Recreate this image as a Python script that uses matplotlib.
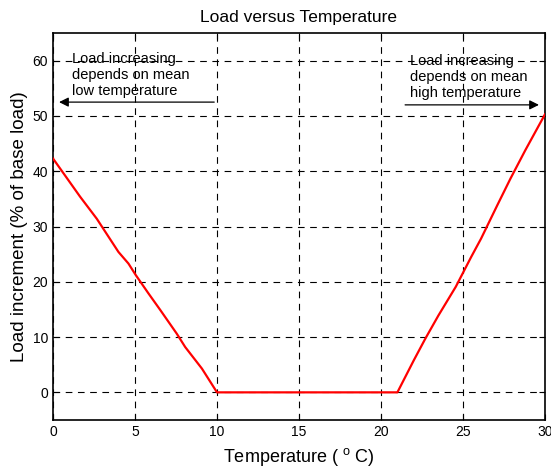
import matplotlib
matplotlib.use("Agg")
import matplotlib.pyplot as plt

plt.rcParams['font.family'] = ['Liberation Sans', 'DejaVu Sans']
plt.rcParams['mathtext.fontset'] = 'custom'
plt.rcParams['mathtext.rm'] = 'Liberation Sans'

# low temperature branch
temp_low = [0, 1.65, 2.67, 3.99, 4.6, 5.05, 5.82, 6.54, 7.55, 8.06, 9.08, 10]
load_low = [42.3, 35.4, 31.4, 25.4, 23.3, 21.2, 17.9, 14.9, 10.6, 8.2, 4.3, 0]
# flat part
temp_mid = [10, 21]
load_mid = [0, 0]
# high temperature branch
temp_high = [21, 22.0, 22.7, 23.5, 24.56, 25.5, 26.1, 27.1, 27.9, 28.8, 30]
load_high = [0, 5.8, 9.7, 13.9, 19.1, 24.5, 27.8, 33.9, 38.7, 43.8, 50.3]

xticks = [0, 5, 10, 15, 20, 25, 30]
yticks = [0, 10, 20, 30, 40, 50, 60]

fig = plt.figure(figsize=(5.51, 4.71), dpi=100)
ax = fig.add_axes([53 / 551, 1 - 420 / 471, 492 / 551, 387 / 471])

t = temp_low + temp_mid[1:] + temp_high[1:]
y = load_low + load_mid[1:] + load_high[1:]
ax.plot(t, y, color='red', lw=1.6, zorder=3)

ax.set_xlim(0, 30)
ax.set_ylim(-5, 65)
ax.set_xticks(xticks)
ax.set_yticks(yticks)
ax.tick_params(direction='in', length=4, labelsize=10, colors='black', top=True, right=True)
ax.grid(True, color='black', linestyle=(0, (6, 5)), lw=0.8)
for s in ax.spines.values():
    s.set_linewidth(1.2)

ax.set_title('Load versus Temperature', fontsize=12.5, pad=8)
ax.set_xlabel('Temperature ( $^{\\mathrm{o}}$ C)', fontsize=13, labelpad=5)
ax.set_ylabel('Load increment (% of base load)', fontsize=13.5, labelpad=3)

ax.annotate('', xy=(0.2, 52.5), xytext=(10, 52.5),
            arrowprops=dict(arrowstyle='-|>', color='black', lw=0.9, mutation_scale=14))
ax.text(1.15, 53.2, 'Load increasing\ndepends on mean\nlow temperature',
        fontsize=10.5, va='bottom', ha='left', linespacing=1.2)

ax.annotate('', xy=(29.8, 52.0), xytext=(21.3, 52.0),
            arrowprops=dict(arrowstyle='-|>', color='black', lw=0.9, mutation_scale=14))
ax.text(21.75, 52.8, 'Load increasing\ndepends on mean\nhigh temperature',
        fontsize=10.5, va='bottom', ha='left', linespacing=1.2)

fig.savefig('out.png', dpi=100)
